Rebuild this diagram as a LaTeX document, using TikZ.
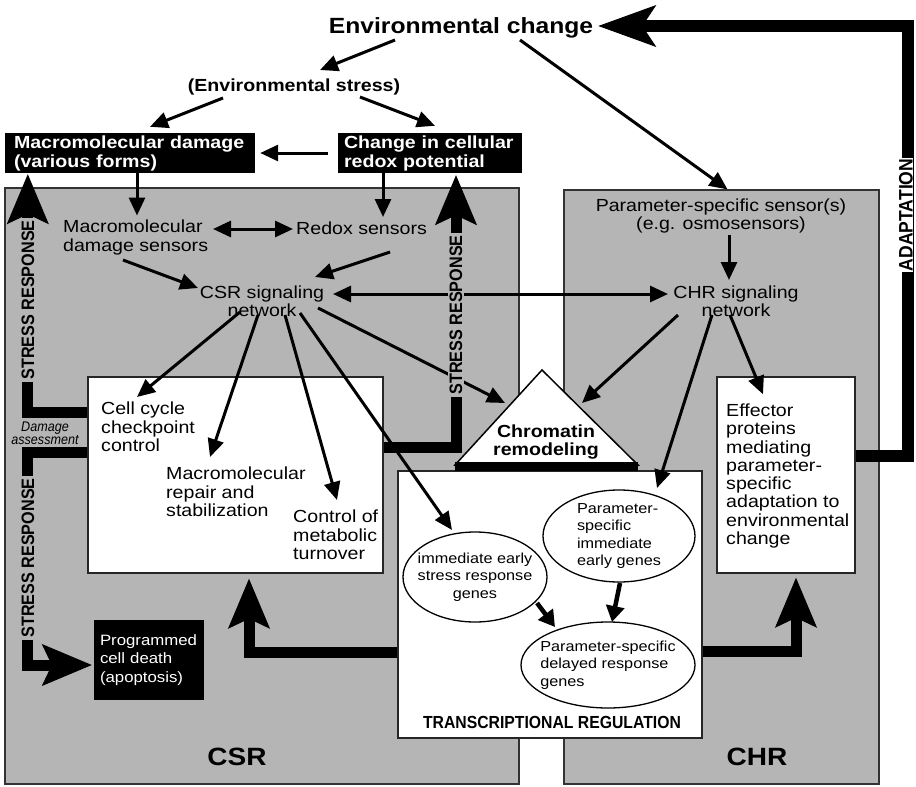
\documentclass[tikz,border=0pt]{standalone}
\usepackage{fontspec}
\setmainfont{Liberation Sans}[FakeStretch=1.12]
\newfontfamily\condfont{Liberation Sans}[FakeStretch=0.9]
\usetikzlibrary{calc,arrows.meta,shapes.geometric}
\definecolor{panelgray}{gray}{0.71}

\begin{document}
\begin{tikzpicture}[x=1pt,y=-1pt,
	txt/.style={inner sep=1pt,align=left,font=\fontsize{17.5}{18.3}\selectfont},
	boldtxt/.style={inner sep=1pt,align=center,font=\fontsize{17.5}{18.5}\selectfont\bfseries},
	darkbox/.style={fill=black,text=white,inner sep=0pt,align=left,font=\fontsize{17.5}{19}\selectfont\bfseries},
	panel/.style={draw=black!80,fill=panelgray,line width=1.2pt,inner sep=0pt},
	whitebox/.style={draw=black!85,fill=white,line width=1.5pt,inner sep=0pt},
	gene/.style={ellipse,draw,fill=white,line width=1.3pt,inner xsep=-8pt,inner ysep=-4pt,font=\fontsize{14.5}{17.5}\selectfont},
	vlabel/.style={rotate=90,inner sep=2pt,font=\condfont\fontsize{18}{18}\selectfont\bfseries},
	arr/.style={line width=3pt,-{Triangle[length=18pt,width=16pt]}},
	dblarr/.style={line width=3pt,{Triangle[length=18pt,width=16pt]}-{Triangle[length=18pt,width=16pt]}},
	medarr/.style={line width=4.5pt,-{Triangle[length=16pt,width=18pt]}},
	bigarr/.style={line width=11pt,-{Stealth[length=50pt,width=42pt,inset=10pt,line width=1pt]}},
]
	\fill[white] (0,0) rectangle (916,787);
	\useasboundingbox (0,0) rectangle (916,787);
	% panels
	\node[panel,minimum width=514pt,minimum height=596pt] (csrpanel) at (262,486) {}; %CSR
	\node[panel,minimum width=315pt,minimum height=594pt] (chrpanel) at (721.5,487) {}; %CHR
	\node[whitebox,minimum width=295pt,minimum height=196pt] (csrbox) at (235.5,475) {};
	\node[whitebox,minimum width=138pt,minimum height=196pt] (effbox) at (786,475) {};
	\node[whitebox,minimum width=304pt,minimum height=267pt] (trbox) at (550,604.5) {};
	\draw[fill=white,line width=1.5pt] (455,465) -- (542,370) -- (638,465) -- cycle; %chromatin
	\fill (455,462) rectangle (638,471);
	% top
	\node[boldtxt,font=\fontsize{22}{24}\selectfont\bfseries] (envchange) at (461,28) {Environmental change};
	\node[boldtxt] (envstress) at (294,87) {(Environmental stress)};
	\node[darkbox,minimum width=250pt,minimum height=40pt,text width=232pt] (macdmg) at (130,153) {Macromolecular damage\\(various forms)};
	\node[darkbox,minimum width=184pt,minimum height=40pt,text width=172pt] (redoxchg) at (430,153) {Change in cellular\\redox potential};
	% CSR side
	\node[txt,anchor=west] (macsens) at (62,237.5) {Macromolecular\\damage sensors};
	\node[txt,anchor=west] (redoxsens) at (295,228) {Redox sensors};
	\node[txt,align=center] (csrnet) at (262,301) {CSR signaling\\network};
	\node[txt,anchor=west] (cellcycle) at (100,427) {Cell cycle\\checkpoint\\control};
	\node[txt,anchor=west] (macrepair) at (165,492) {Macromolecular\\repair and\\stabilization};
	\node[txt,anchor=west] (metab) at (292,535) {Control of\\metabolic\\turnover};
	\node[darkbox,font=\fontsize{15}{18.5}\selectfont,minimum width=110pt,minimum height=80pt,text width=98pt] (apoptosis) at (149,660) {Programmed\\cell death\\(apoptosis)};
	\node[inner sep=0pt,align=center,font=\condfont\fontsize{14}{11}\selectfont\itshape] (dmgassess) at (45,433) {Damage\\assessment};
	% CHR side
	\node[txt,align=center] (parsens) at (721,216) {Parameter-specific sensor(s)\\(e.g. osmosensors)};
	\node[txt,align=center] (chrnet) at (736,301) {CHR signaling\\network};
	\node[txt,anchor=west] (effector) at (725,476) {Effector\\proteins\\mediating\\parameter-\\specific\\adaptation to\\environmental\\change};
	% transcription
	\node[boldtxt] (chromatin) at (546,442) {Chromatin\\remodeling};
	\node[gene,minimum width=144pt,minimum height=90pt,align=center] (iesr) at (475,577) {immediate early\\stress response\\genes};
	\node[gene,minimum width=152pt,minimum height=92pt,align=left] (pied) at (619,536) {Parameter-\\specific\\immediate\\early genes};
	\node[gene,minimum width=174pt,minimum height=86pt,align=left] (prdg) at (608,665) {Parameter-specific\\delayed response\\genes};
	\node[inner sep=1pt,font=\condfont\fontsize{17.5}{18}\selectfont\bfseries] (trlabel) at (552,722) {TRANSCRIPTIONAL REGULATION};
	\node[boldtxt,font=\fontsize{25}{26}\selectfont\bfseries] (csrlabel) at (237,757) {CSR};
	\node[boldtxt,font=\fontsize{25}{26}\selectfont\bfseries] (chrlabel) at (757,757) {CHR};
	% thin arrows
	\draw[arr] ($(envchange)+(-66,12)$) -- ($(envstress)+(26,-17)$);
	\draw[arr] ($(envchange)+(59,12)$) -- ($(chrpanel.north)+(6,0)$);
	\draw[arr] ($(envstress)+(-71,11)$) -- ($(macdmg.north)+(20,-6)$);
	\draw[arr] ($(envstress)+(66,10)$) -- ($(redoxchg.north)+(5,-7)$);
	\draw[arr] ($(redoxchg.west)+(-10,0)$) -- ($(macdmg.east)+(5,0)$);
	\draw[arr] ($(macdmg.south)+(7,0)$) -- ($(macsens.west)+(75,-22)$);
	\draw[arr] ($(redoxchg.south)+(-47,0)$) -- ($(redoxsens.west)+(88,-11)$);
	\draw[dblarr] ($(macsens.west)+(151,-8.5)$) -- ($(redoxsens.west)+(-2,1)$);
	\draw[arr] ($(macsens.west)+(61,22.5)$) -- ($(csrnet)+(-64,-13)$);
	\draw[arr] ($(redoxsens.west)+(95,24)$) -- ($(csrnet)+(53,-24)$);
	\draw[dblarr] ($(csrnet)+(71,-7)$) -- ($(chrnet)+(-68,-7)$);
	\draw[arr] ($(parsens)+(8,19)$) -- ($(chrnet)+(-7,-21)$);
	\draw[arr] ($(csrnet)+(-22,11)$) -- ($(cellcycle.west)+(37,-30)$);
	\draw[arr] ($(csrnet)+(-4,14)$) -- ($(macrepair.west)+(45,-35)$);
	\draw[arr] ($(csrnet)+(23,14)$) -- ($(metab.west)+(45,-35)$);
	\draw[arr] ($(csrnet)+(38,12)$) -- ($(iesr)+(-23,-47)$);
	\draw[arr] ($(csrnet)+(56,7)$) -- ($(chromatin)+(-41,-39)$);
	\draw[arr] ($(chrnet)+(-58,14)$) -- ($(chromatin)+(36,-39)$);
	\draw[arr] ($(chrnet)+(-24,14)$) -- ($(pied)+(38,-48)$);
	\draw[arr] ($(chrnet)+(-6,14)$) -- ($(effbox.north)+(-23,18)$);
	\draw[medarr] ($(iesr)+(62,26)$) -- ($(prdg)+(-53,-38)$);
	\draw[medarr] ($(pied)+(1,47)$) -- ($(prdg)+(4,-43)$);
	% thick arrows
	\draw[bigarr] ($(csrbox.west)+(0,-63)$) -| ($(macdmg.south west)+(23,1)$);
	\draw[bigarr] ($(csrbox.west)+(0,-23)$) -- ++(-60,0) |- ($(apoptosis.west)+(-2,5)$);
	\draw[bigarr] ($(csrbox.east)+(0,-28)$) -| ($(redoxchg.south)+(26,2)$);
	\draw[bigarr] ($(trbox.west)+(0,47.5)$) -| ($(csrbox.south)+(13.5,5)$);
	\draw[bigarr] ($(trbox.east)+(0,46.5)$) -| ($(effbox.south)+(10,4)$);
	\draw[bigarr,line width=12pt,-{Stealth[length=58pt,width=42pt,inset=14pt,line width=1pt]}] ($(effbox.east)+(0,-19)$) -- ++(52,0) |- ($(envchange.east)+(4,-2)$);
	% labels on the thick arrows
	\node[vlabel,fill=panelgray] (stressA) at (28,300) {STRESS RESPONSE};
	\node[vlabel,fill=panelgray] (stressB) at (28,558) {STRESS RESPONSE};
	\node[vlabel,fill=panelgray] (stressC) at (456,315) {STRESS RESPONSE};
	\node[vlabel,fill=white,inner sep=0.5pt,font=\condfont\fontsize{19.5}{19.5}\selectfont\bfseries] (adapt) at (906,215) {ADAPTATION};
\end{tikzpicture}
\end{document}
